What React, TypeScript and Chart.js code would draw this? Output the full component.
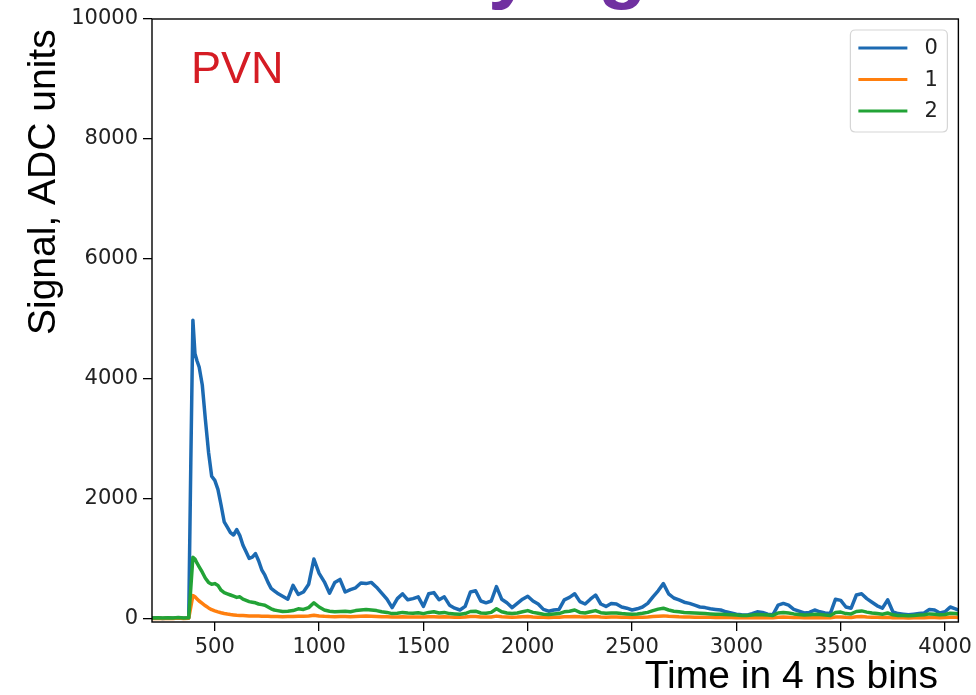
import { useEffect, useRef } from 'react';
import { Chart, registerables } from 'chart.js';

Chart.register(...registerables);

// Sample times (4 ns bins)
const times = [
  200, 225, 250, 275, 300, 325, 350, 375,
  385, 395, 405, 415, 425,
  440, 455, 470, 485, 500, 515, 530, 545, 560, 575, 590, 605, 620, 635, 650, 665, 680, 695, 710, 725, 740, 755, 770, 785, 800,
  825, 850, 875, 900, 925, 950, 975, 1000, 1025, 1050,
  1075, 1100, 1125, 1150, 1175, 1200, 1225, 1250, 1275, 1300,
  1325, 1350, 1375, 1400, 1425, 1450, 1475, 1500, 1525, 1550,
  1575, 1600, 1625, 1650, 1675, 1700, 1725, 1750, 1775, 1800,
  1825, 1850, 1875, 1900, 1925, 1950, 1975, 2000, 2025, 2050,
  2075, 2100, 2125, 2150, 2175, 2200, 2225, 2250, 2275, 2300,
  2325, 2350, 2375, 2400, 2425, 2450, 2475, 2500, 2525, 2550,
  2575, 2600, 2625, 2650, 2675, 2700, 2725, 2750, 2775, 2800,
  2825, 2850, 2875, 2900, 2925, 2950, 2975, 3000, 3025, 3050,
  3075, 3100, 3125, 3150, 3175, 3200, 3225, 3250, 3275, 3300,
  3325, 3350, 3375, 3400, 3425, 3450, 3475, 3500, 3525, 3550,
  3575, 3600, 3625, 3650, 3675, 3700, 3725, 3750, 3775, 3800,
  3825, 3850, 3875, 3900, 3925, 3950, 3975, 4000, 4025, 4050,
  4070,
];

const channel0 = [
  15, 22, 10, 18, 12, 20, 14, 22,
  2600, 4980, 4420, 4300, 4200,
  3900, 3320, 2780, 2380, 2310, 2160, 1900, 1620, 1530, 1440, 1400, 1490, 1390, 1230, 1120, 1010, 1030, 1090, 970, 820, 730, 610, 510, 470, 430,
  380, 330, 560, 410, 450, 580, 1000, 760, 620, 430,
  610, 660, 450, 490, 520, 600, 590, 610, 530, 430,
  330, 190, 340, 420, 320, 340, 370, 210, 420, 440,
  320, 370, 230, 180, 150, 210, 450, 470, 300, 270,
  300, 540, 330, 270, 190, 260, 330, 380, 300, 250,
  160, 130, 150, 160, 320, 360, 420, 290, 250, 330,
  400, 250, 210, 260, 250, 200, 180, 150, 170, 200,
  260, 370, 470, 590, 420, 350, 320, 280, 260, 230,
  200, 190, 170, 160, 150, 120, 100, 80, 70, 65,
  90, 120, 110, 80, 70, 230, 260, 230, 160, 130,
  100, 110, 150, 120, 100, 90, 330, 310, 200, 180,
  400, 420, 340, 280, 220, 180, 320, 120, 90, 80,
  70, 80, 90, 100, 160, 150, 100, 120, 200, 170,
  140,
];

const channel1 = [
  10, 14, 8, 12, 10, 15, 9, 12,
  200, 390, 370, 335, 300,
  260, 220, 185, 155, 135, 118, 104, 92, 82, 74, 68, 62, 60, 58, 55, 52, 50, 50, 48, 46, 45, 44, 42, 40, 40,
  38, 40, 42, 45, 44, 50, 62, 50, 44, 40,
  38, 40, 42, 38, 42, 45, 48, 45, 42, 38,
  36, 32, 34, 36, 34, 32, 35, 32, 36, 38,
  34, 36, 32, 30, 30, 32, 40, 42, 34, 32,
  34, 48, 38, 34, 30, 32, 36, 40, 34, 30,
  28, 26, 28, 30, 36, 38, 42, 36, 32, 36,
  40, 32, 30, 32, 32, 30, 28, 26, 28, 30,
  34, 40, 46, 52, 44, 40, 36, 34, 32, 30,
  30, 28, 28, 26, 26, 25, 24, 22, 20, 20,
  22, 24, 22, 20, 20, 30, 34, 30, 26, 24,
  22, 22, 24, 22, 20, 20, 32, 34, 28, 26,
  36, 40, 34, 30, 28, 26, 30, 22, 20, 20,
  18, 20, 20, 22, 26, 24, 22, 24, 30, 28,
  26,
];

const channel2 = [
  18, 22, 15, 20, 17, 24, 16, 20,
  520, 1030, 1000, 930, 870,
  780, 680, 610, 580, 590, 560, 480, 440, 420, 400, 380, 360, 370, 330, 310, 290, 280, 270, 250, 240, 230, 200, 170, 150, 140,
  125, 130, 140, 170, 160, 190, 270, 200, 150, 130,
  120, 125, 130, 120, 140, 150, 160, 150, 140, 120,
  110, 90, 95, 110, 100, 95, 105, 90, 110, 120,
  100, 110, 90, 85, 80, 90, 125, 130, 100, 95,
  110, 170, 120, 100, 90, 100, 120, 140, 110, 95,
  80, 75, 85, 90, 120, 130, 150, 110, 100, 120,
  140, 105, 95, 100, 100, 90, 85, 80, 85, 95,
  110, 140, 165, 180, 150, 130, 120, 110, 105, 100,
  95, 90, 85, 80, 80, 75, 70, 65, 60, 60,
  65, 75, 70, 65, 60, 100, 110, 100, 85, 75,
  65, 70, 80, 75, 65, 60, 110, 115, 90, 85,
  125, 135, 115, 100, 90, 80, 100, 70, 60, 60,
  55, 60, 65, 70, 85, 80, 70, 75, 95, 90,
  80,
];

const seriesLabels = ['0', '1', '2'];
const seriesColors = ['#1c6ab2', '#ff7f0e', '#22a336'];
const xTickValues = [500, 1000, 1500, 2000, 2500, 3000, 3500, 4000];
const yTickValues = [0, 2000, 4000, 6000, 8000, 10000];
const yAxisTitle = 'Signal, ADC units';
const xAxisTitle = 'Time in 4 ns bins';
const panelLabel = 'PVN';
const slideTitleFragments = ['y', 'g'];

const overlayPlugin = {
  id: 'overlay',
  afterDraw(chart: any) {
    const { ctx, chartArea: a } = chart;
    ctx.save();

    // frame
    ctx.strokeStyle = '#000';
    ctx.lineWidth = 1.4;
    ctx.strokeRect(a.left, a.top, a.right - a.left, a.bottom - a.top);

    // legend
    const bw = 97;
    const bh = 102;
    const bx = a.right - 11 - bw;
    const by = a.top + 11;
    const r = 5;
    ctx.beginPath();
    ctx.moveTo(bx + r, by);
    ctx.lineTo(bx + bw - r, by);
    ctx.quadraticCurveTo(bx + bw, by, bx + bw, by + r);
    ctx.lineTo(bx + bw, by + bh - r);
    ctx.quadraticCurveTo(bx + bw, by + bh, bx + bw - r, by + bh);
    ctx.lineTo(bx + r, by + bh);
    ctx.quadraticCurveTo(bx, by + bh, bx, by + bh - r);
    ctx.lineTo(bx, by + r);
    ctx.quadraticCurveTo(bx, by, bx + r, by);
    ctx.closePath();
    ctx.fillStyle = 'rgba(255,255,255,0.85)';
    ctx.fill();
    ctx.strokeStyle = '#d6d6d6';
    ctx.lineWidth = 1.2;
    ctx.stroke();
    chart.data.datasets.forEach((ds: any, i: number) => {
      const ly = by + 18 + i * 31.5;
      ctx.strokeStyle = ds.borderColor;
      ctx.lineWidth = 3;
      ctx.beginPath();
      ctx.moveTo(bx + 8, ly);
      ctx.lineTo(bx + 57, ly);
      ctx.stroke();
      ctx.fillStyle = '#222';
      ctx.font = '21px "DejaVu Sans"';
      ctx.textAlign = 'left';
      ctx.textBaseline = 'middle';
      ctx.fillText(ds.label, bx + 74, ly + 1);
    });

    // panel label
    ctx.fillStyle = '#d51c24';
    ctx.font = '45px "Liberation Sans"';
    ctx.textAlign = 'left';
    ctx.textBaseline = 'alphabetic';
    ctx.fillText(panelLabel, a.left + 39, a.top + 64);

    // axis titles
    ctx.fillStyle = '#000';
    ctx.font = '39px "Liberation Sans"';
    ctx.textAlign = 'right';
    ctx.fillText(xAxisTitle, 938, 688);

    ctx.save();
    ctx.translate(55, 335);
    ctx.rotate(-Math.PI / 2);
    ctx.textAlign = 'left';
    ctx.fillText(yAxisTitle, 0, 0);
    ctx.restore();

    // cut-off slide title fragments
    ctx.fillStyle = '#7030a0';
    ctx.font = 'bold 80px "Liberation Sans"';
    ctx.textAlign = 'left';
    ctx.fillText(slideTitleFragments[0], 488, -7);
    ctx.fillText(slideTitleFragments[1], 598, -7);

    ctx.restore();
  },
};

export default function App() {
  const canvasRef = useRef<HTMLCanvasElement | null>(null);

  useEffect(() => {
    if (!canvasRef.current) return;
    const seriesData = [channel0, channel1, channel2];
    const chart = new Chart(canvasRef.current, {
      type: 'line',
      data: {
        datasets: seriesData.map((vals, i) => ({
          label: seriesLabels[i],
          data: times.map((t, j) => ({ x: t, y: vals[j] })),
          borderColor: seriesColors[i],
          backgroundColor: seriesColors[i],
          borderWidth: 3.5,
          borderJoinStyle: 'round' as const,
          borderCapStyle: 'round' as const,
          pointRadius: 0,
          tension: 0,
          fill: false,
          order: 3 - i,
        })),
      },
      options: {
        animation: false,
        responsive: false,
        devicePixelRatio: 1,
        layout: { padding: { left: 0, right: 15, top: 19, bottom: 0 } },
        plugins: {
          legend: { display: false },
          title: { display: false },
          tooltip: { enabled: false },
        },
        scales: {
          x: {
            type: 'linear',
            min: 199,
            max: 4064,
            afterFit(s: any) {
              s.height = 73;
            },
            afterBuildTicks(s: any) {
              s.ticks = xTickValues.map((v) => ({ value: v }));
            },
            grid: {
              display: true,
              drawOnChartArea: false,
              drawTicks: true,
              tickLength: 9,
              color: '#000',
              lineWidth: 1.3,
            },
            border: { display: false },
            ticks: {
              font: { family: 'DejaVu Sans', size: 21 },
              color: '#222',
              padding: 4,
              maxRotation: 0,
              autoSkip: false,
              callback: (v: any) => String(v),
            },
          },
          y: {
            type: 'linear',
            min: -50,
            max: 10000,
            afterFit(s: any) {
              s.width = 152;
            },
            afterBuildTicks(s: any) {
              s.ticks = yTickValues.map((v) => ({ value: v }));
            },
            grid: {
              display: true,
              drawOnChartArea: false,
              drawTicks: true,
              tickLength: 9,
              color: '#000',
              lineWidth: 1.3,
            },
            border: { display: false },
            ticks: {
              font: { family: 'DejaVu Sans', size: 21 },
              color: '#222',
              padding: 5,
              autoSkip: false,
              callback: (v: any) => String(v),
            },
          },
        },
      },
      plugins: [overlayPlugin],
    });
    return () => chart.destroy();
  }, []);

  return (
    <div style={{ position: 'fixed', left: 0, top: 0, width: 976, height: 695, background: '#fff' }}>
      <canvas ref={canvasRef} width={976} height={695} style={{ display: 'block' }} />
    </div>
  );
}
